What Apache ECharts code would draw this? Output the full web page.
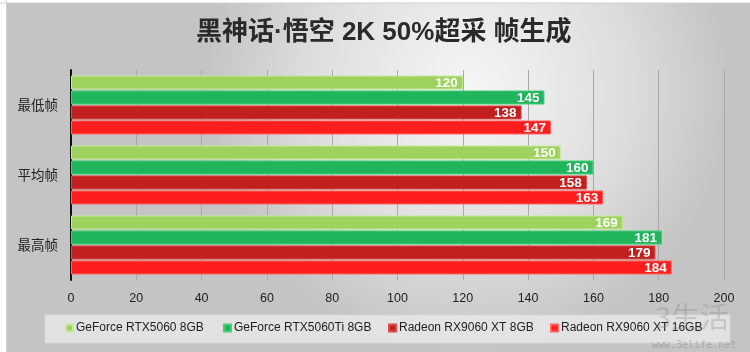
<!DOCTYPE html>
<html><head><meta charset="utf-8">
<script src="https://cdn.jsdelivr.net/npm/echarts@6/dist/echarts.min.js"></script>
<style>html,body{margin:0;padding:0;background:#fff}#c{width:750px;height:352px}</style>
</head><body><div id="c"></div>
<script>
const title = '黑神话·悟空 2K 50%超采 帧生成';
const categories = ['最低帧', '平均帧', '最高帧'];
const seriesNames = ['GeForce RTX5060 8GB', 'GeForce RTX5060Ti 8GB', 'Radeon RX9060 XT 8GB', 'Radeon RX9060 XT 16GB'];
const rtx5060 = [120, 150, 169];
const rtx5060ti = [145, 160, 181];
const rx9060xt8 = [138, 158, 179];
const rx9060xt16 = [147, 163, 184];
const xTicks = [0, 20, 40, 60, 80, 100, 120, 140, 160, 180, 200];

const colors = ['#9dd25e', '#20b45c', '#c21f1f', '#ff1e1e'];
const borders = ['#c6e99a', '#43cf77', '#d84a4a', '#ff6262'];
const values = [rtx5060, rtx5060ti, rx9060xt8, rx9060xt16];
const legendLefts = [65, 223, 388, 550];

const chart = echarts.init(document.getElementById('c'), null, {renderer: 'canvas'});
chart.setOption({
  animation: false,
  graphic: [
    {type: 'rect', z: -10, shape: {x: 7, y: 3, width: 743, height: 349},
      style: {fill: new echarts.graphic.RadialGradient(0.62, 0.25, 0.75, [
        {offset: 0, color: '#f6f6f6'}, {offset: 0.6, color: '#dedede'}, {offset: 1, color: '#c4c4c4'}])}},
    {type: 'line', z: -9, shape: {x1: 0, y1: 3, x2: 750, y2: 3}, style: {stroke: '#d0d0d0', lineWidth: 1}},
    {type: 'line', z: -9, shape: {x1: 6.5, y1: 0, x2: 6.5, y2: 352}, style: {stroke: '#d0d0d0', lineWidth: 1}},
    {type: 'rect', z: -5, shape: {x: 45, y: 315, width: 685, height: 28},
      style: {fill: 'rgba(232,232,232,0.85)', stroke: '#d6d6d6', lineWidth: 1}},
    {type: 'text', z: 5, left: 655, top: 302, style: {text: '3生活', fontSize: 29, fontFamily: 'Noto Sans CJK SC', fill: 'rgba(130,130,130,0.3)'}},
    {type: 'text', z: 5, left: 652, top: 340, style: {text: 'www.3elife.net', fontSize: 10, fontFamily: 'DejaVu Sans Mono', fill: 'rgba(120,120,120,0.4)'}}
  ],
  title: {
    text: title, left: 191, top: 15,
    textStyle: {fontFamily: 'Liberation Sans, Noto Sans CJK SC', fontWeight: 'bold', fontSize: 26, color: '#2a2a2a'}
  },
  legend: seriesNames.map((n, i) => ({
    data: [n], top: 322, left: legendLefts[i],
    itemWidth: 7, itemHeight: 7, icon: 'rect', padding: 0,
    textStyle: {fontFamily: 'Liberation Sans', fontSize: 12, color: '#222', padding: [0, 0, 0, -2]}
  })),
  grid: {left: 71, right: 26, top: 70, bottom: 72},
  xAxis: {
    type: 'value', min: 0, max: 200, interval: 20,
    axisLine: {show: false}, axisTick: {show: false},
    axisLabel: {margin: 12, fontFamily: 'Liberation Sans', fontSize: 12.5, color: '#222',
      formatter: v => xTicks.includes(v) ? String(v) : ''},
    splitLine: {lineStyle: {color: '#a8a8a8', width: 1}}
  },
  yAxis: {
    type: 'category', data: categories, inverse: true,
    axisLine: {lineStyle: {color: '#111', width: 2}}, axisTick: {show: false},
    axisLabel: {margin: 13, fontFamily: 'Noto Sans CJK SC', fontSize: 13.5, color: '#222'}
  },
  series: seriesNames.map((n, i) => ({
    name: n, type: 'bar', data: values[i],
    barWidth: 14, barGap: '7%',
    itemStyle: {color: colors[i], borderColor: borders[i], borderWidth: 1},
    label: {show: true, position: 'insideRight', offset: [0, 1], color: '#fff',
      fontFamily: 'Liberation Sans', fontWeight: 'bold', fontSize: 13.5}
  }))
});
</script></body></html>
